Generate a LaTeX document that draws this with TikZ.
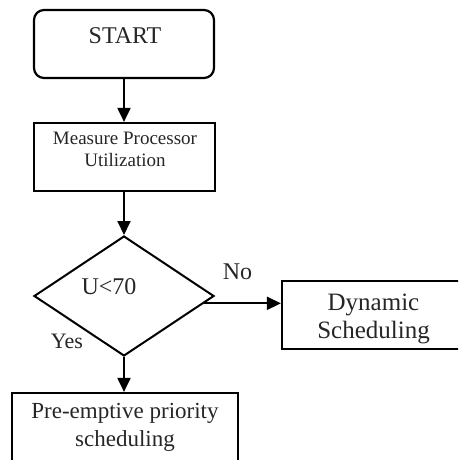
\documentclass[tikz,border=0pt]{standalone}
\usepackage{fontspec}
\setmainfont{Liberation Serif}
\usetikzlibrary{arrows.meta,shapes.geometric,calc}
\begin{document}
\begin{tikzpicture}[x=1pt,y=-1pt,
  box/.style={draw=black, line width=2.2pt, rectangle, inner sep=0pt},
  link/.style={line width=2pt, -{Triangle[length=14pt,width=13pt]}},
  txt/.style={inner sep=0pt, align=center, text=black!85}]
  \useasboundingbox (0,0) rectangle (458,460);
  \clip (0,0) rectangle (458,460);

  % shapes of the flow
  \node[box, rounded corners=10pt, minimum width=180pt, minimum height=68pt] (start) at (124,44) {};
  \node[box, minimum width=181pt, minimum height=68pt] (measure) at (124.5,157) {};
  \node[draw=black, line width=2pt, diamond, inner sep=0pt, minimum width=180pt, minimum height=120pt] (decision) at (124,296) {};
  \node[box, minimum width=226pt, minimum height=84pt] (pre) at (125,435) {};
  \node[box, minimum width=196pt, minimum height=68pt] (dyn) at (380,315) {};

  % texts
  \node[txt, font=\fontsize{24}{28}\selectfont] (startT) at (125,36) {START};
  \node[txt, font=\fontsize{19}{22}\selectfont] (measureT) at (125,149) {Measure Processor\\Utilization};
  \node[txt, font=\fontsize{24}{28}\selectfont] (decisionT) at (109,287) {U<70};
  \node[txt, font=\fontsize{23}{28}\selectfont] (preT) at (125,427.5) {Pre-emptive priority\\scheduling};
  \node[txt, font=\fontsize{25}{28}\selectfont] (dynT) at (373.5,318.5) {Dynamic\\Scheduling};
  \node[txt, font=\fontsize{22}{26}\selectfont] (yesT) at (67,341) {Yes};
  \node[txt, font=\fontsize{24}{28}\selectfont] (noT) at (237.5,272) {No};

  % connectors
  \coordinate (exitNo) at ($(decision.east)!0.12!(decision.south)$);
  \draw[link] (start.south) -- (start.south |- measure.north);
  \draw[link] (measure.south -| start.south) -- (start.south |- decision.north);
  \draw[link] (decision.south) -- (decision.south |- pre.north);
  \draw[link] (exitNo) -- (exitNo -| dyn.west);
\end{tikzpicture}
\end{document}
